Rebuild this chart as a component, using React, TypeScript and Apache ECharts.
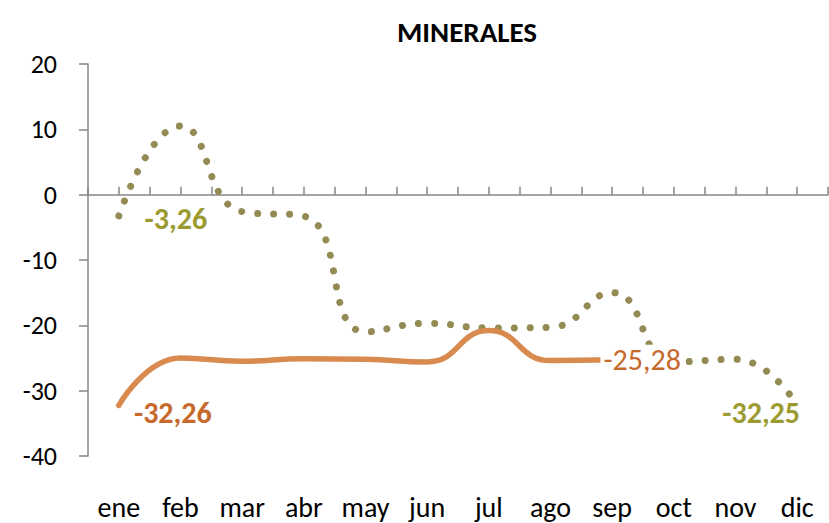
import React, { useEffect, useRef } from "react";
import * as echarts from "echarts";

const months = ["ene", "feb", "mar", "abr", "may", "jun", "jul", "ago", "sep", "oct", "nov", "dic"];
const dottedValues = [-3.26, 10.5, -2.6, -3.3, -21.0, -19.7, -20.4, -20.3, -15.0, -25.6, -25.2, -32.25];
const orangeValues: (number | null)[] = [-32.26, -25.0, -25.5, -25.1, -25.2, -25.6, -20.8, -25.4, -25.28, null, null, null];
const yTicks = { min: -40, max: 20, interval: 10 };
const halfTicks = months.flatMap(() => ["", ""]);

const FONT = "Carlito, Lato, sans-serif";
const fmt = (v: number) => v.toFixed(2).replace(".", ",");

export default function App() {
  const ref = useRef<HTMLDivElement>(null);
  useEffect(() => {
    if (!ref.current) return;
    const chart = echarts.init(ref.current, undefined, { renderer: "svg" });
    const olive = "#948A54";
    const oliveLabel = "#9B9B31";
    const orange = "#D98A4F";
    const orangeLabel = "#C7692C";
    const LBL = 30;

    const dottedData = dottedValues.map((v, i) => {
      if (i === 0)
        return { value: v, label: { show: true, position: "inside", offset: [57, 3], color: oliveLabel, fontWeight: "bold", fontSize: LBL, fontFamily: FONT, formatter: () => fmt(v) } };
      if (i === dottedValues.length - 1)
        return { value: v, label: { show: true, position: "inside", offset: [-36, 7], color: oliveLabel, fontWeight: "bold", fontSize: LBL, fontFamily: FONT, formatter: () => fmt(v) } };
      return v;
    });
    const lastOrange = orangeValues.reduce((acc: number, v, i) => (v != null ? i : acc), 0);
    const orangeData = orangeValues.map((v, i) => {
      if (v == null) return null;
      if (i === 0)
        return { value: v, label: { show: true, position: "inside", offset: [54, 7], color: orangeLabel, fontWeight: "bold", fontSize: LBL, fontFamily: FONT, formatter: () => fmt(v) } };
      if (i === lastOrange)
        return { value: v, label: { show: true, position: "inside", offset: [30, 0], color: orangeLabel, fontWeight: "normal", fontSize: LBL, fontFamily: FONT, backgroundColor: "#ffffff", padding: [0, 3], formatter: () => fmt(v) } };
      return v;
    });

    chart.setOption({
      animation: false,
      title: {
        text: "MINERALES",
        left: 392,
        top: 12,
        textStyle: { fontFamily: FONT, fontWeight: "bold", fontSize: 29, color: "#000" },
      },
      grid: { left: 88, right: 1, top: 64, bottom: 67, containLabel: false },
      xAxis: [
        {
          type: "category",
          data: months,
          position: "bottom",
          boundaryGap: true,
          axisLine: { show: false, onZero: false },
          axisTick: { show: false },
          axisLabel: { margin: 37, fontSize: 28, lineHeight: 28, fontFamily: FONT, color: "#000", interval: 0 },
        },
        {
          type: "category",
          data: halfTicks,
          position: "bottom",
          boundaryGap: true,
          axisLine: { show: true, onZero: true, lineStyle: { color: "#868686", width: 1.5 } },
          axisTick: { show: true, inside: true, length: 8, interval: 0, lineStyle: { color: "#868686", width: 1.5 } },
          axisLabel: { show: false },
        },
      ],
      yAxis: {
        type: "value",
        min: yTicks.min,
        max: yTicks.max,
        interval: yTicks.interval,
        axisLine: { show: true, lineStyle: { color: "#868686", width: 1.5 } },
        axisTick: { show: true, length: 9, lineStyle: { color: "#868686", width: 1.5 } },
        splitLine: { show: false },
        axisLabel: { margin: 31, fontSize: 26, fontFamily: FONT, color: "#000" },
      },
      series: [
        {
          type: "line",
          xAxisIndex: 0,
          data: dottedData,
          smooth: 0.5,
          showSymbol: true,
          symbol: "circle",
          symbolSize: 0,
          itemStyle: { color: olive },
          lineStyle: { color: olive, width: 7, type: [0.01, 16], cap: "round" },
          z: 2,
        },
        {
          type: "line",
          xAxisIndex: 0,
          data: orangeData,
          smooth: 0.5,
          showSymbol: true,
          symbol: "circle",
          symbolSize: 0,
          itemStyle: { color: orange },
          lineStyle: { color: orange, width: 5.5, cap: "round" },
          z: 3,
        },
      ],
    });
    return () => chart.dispose();
  }, []);
  return <div ref={ref} style={{ position: "fixed", left: 0, top: 0, width: 829, height: 523, background: "#fff" }} />;
}
